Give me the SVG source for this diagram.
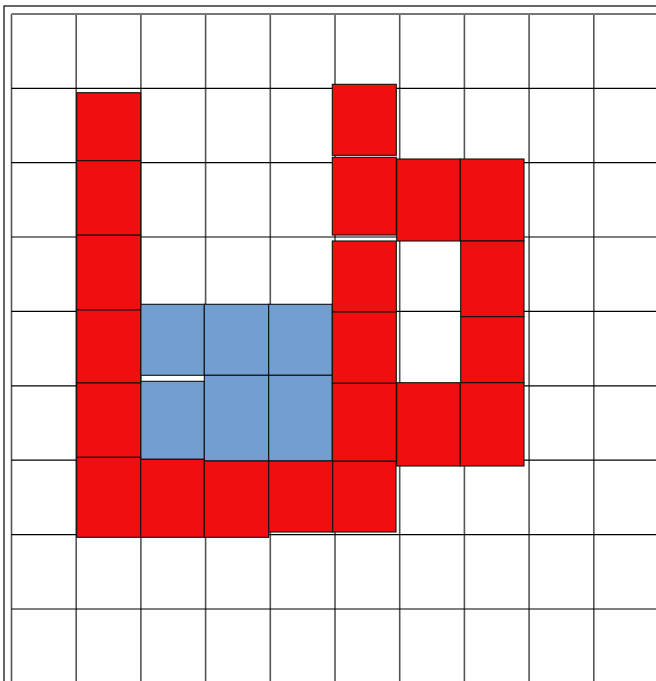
<svg xmlns="http://www.w3.org/2000/svg" width="656" height="681" viewBox="0 0 656 681">
<style>
.bg{fill:#fff}
.frame{fill:none;stroke:#000;stroke-width:1.2}
.v{stroke:#555;stroke-width:1.6}
.h{stroke:#000;stroke-width:1.2}
.top{stroke:#777;stroke-width:2}
.r{fill:#f10e0e;stroke:#111;stroke-width:1.1}
.b{fill:#729fcf;stroke:#111;stroke-width:1.1}
</style>
<rect class="bg" x="0" y="0" width="656" height="681"/>
<g id="grid">
<rect class="frame" x="4" y="6" width="700" height="700"/>
<line class="v" x1="11.5" y1="14" x2="11.5" y2="681"/>
<line class="v" x1="76.2" y1="14" x2="76.2" y2="681"/>
<line class="v" x1="140.9" y1="14" x2="140.9" y2="681"/>
<line class="v" x1="205.6" y1="14" x2="205.6" y2="681"/>
<line class="v" x1="270.3" y1="14" x2="270.3" y2="681"/>
<line class="v" x1="335" y1="14" x2="335" y2="681"/>
<line class="v" x1="399.7" y1="14" x2="399.7" y2="681"/>
<line class="v" x1="464.4" y1="14" x2="464.4" y2="681"/>
<line class="v" x1="529.1" y1="14" x2="529.1" y2="681"/>
<line class="v" x1="593.8" y1="14" x2="593.8" y2="681"/>
<line class="top" x1="11.5" y1="14" x2="656" y2="14"/>
<line class="h" x1="11.5" y1="88.3" x2="656" y2="88.3"/>
<line class="h" x1="11.5" y1="162.7" x2="656" y2="162.7"/>
<line class="h" x1="11.5" y1="237" x2="656" y2="237"/>
<line class="h" x1="11.5" y1="311.4" x2="656" y2="311.4"/>
<line class="h" x1="11.5" y1="385.8" x2="656" y2="385.8"/>
<line class="h" x1="11.5" y1="460.2" x2="656" y2="460.2"/>
<line class="h" x1="11.5" y1="534.6" x2="656" y2="534.6"/>
<line class="h" x1="11.5" y1="609" x2="656" y2="609"/>
</g>
<g id="blue">
<g id="b1"><rect class="b" x="140.7" y="304.3" width="63.6" height="71"/></g>
<g id="b2"><rect class="b" x="204.3" y="304.3" width="64.4" height="71"/></g>
<g id="b3"><rect class="b" x="268.7" y="304.3" width="63.6" height="71"/></g>
<g id="b4"><rect class="b" x="140.7" y="381.3" width="63.6" height="78"/></g>
<g id="b5"><rect class="b" x="204.3" y="375.3" width="64.4" height="85.7"/></g>
<g id="b6"><rect class="b" x="268.7" y="375.3" width="63.6" height="85.7"/></g>
</g>
<g id="red">
<g id="r1"><rect class="r" x="76.7" y="92.7" width="64" height="68"/></g>
<g id="r2"><rect class="r" x="76.7" y="160.7" width="64" height="74.5"/></g>
<g id="r3"><rect class="r" x="76.7" y="235.2" width="64" height="74.8"/></g>
<g id="r4"><rect class="r" x="76.7" y="310" width="64" height="73"/></g>
<g id="r5"><rect class="r" x="76.7" y="383" width="64" height="74.3"/></g>
<g id="r6"><rect class="r" x="76.7" y="457.3" width="64" height="80"/></g>
<g id="r7"><rect class="r" x="140.7" y="459.3" width="63.6" height="78"/></g>
<g id="r8"><rect class="r" x="204.3" y="461" width="64.4" height="76.3"/></g>
<g id="r9"><rect class="r" x="268.7" y="461" width="64" height="71"/></g>
<g id="r10"><rect class="r" x="332.7" y="461" width="63.3" height="71"/></g>
<g id="r11"><rect class="r" x="332.3" y="84.3" width="64" height="71"/></g>
<g id="r12"><rect class="r" x="332.3" y="157.3" width="64" height="77.7"/></g>
<g id="r13"><rect class="r" x="332.3" y="241" width="64" height="71"/></g>
<g id="r14"><rect class="r" x="332.3" y="312" width="64" height="71.3"/></g>
<g id="r15"><rect class="r" x="332.3" y="383.3" width="64" height="77.7"/></g>
<g id="r16"><rect class="r" x="396.7" y="159" width="63.6" height="82"/></g>
<g id="r17"><rect class="r" x="460.3" y="159" width="63.7" height="82"/></g>
<g id="r18"><rect class="r" x="460.7" y="241" width="63.3" height="75.7"/></g>
<g id="r19"><rect class="r" x="460.7" y="316.7" width="63.3" height="66.3"/></g>
<g id="r20"><rect class="r" x="396.7" y="382.7" width="63.6" height="83.3"/></g>
<g id="r21"><rect class="r" x="460.3" y="382.7" width="63.7" height="83.3"/></g>
</g>
<g id="connectors"/>
</svg>
